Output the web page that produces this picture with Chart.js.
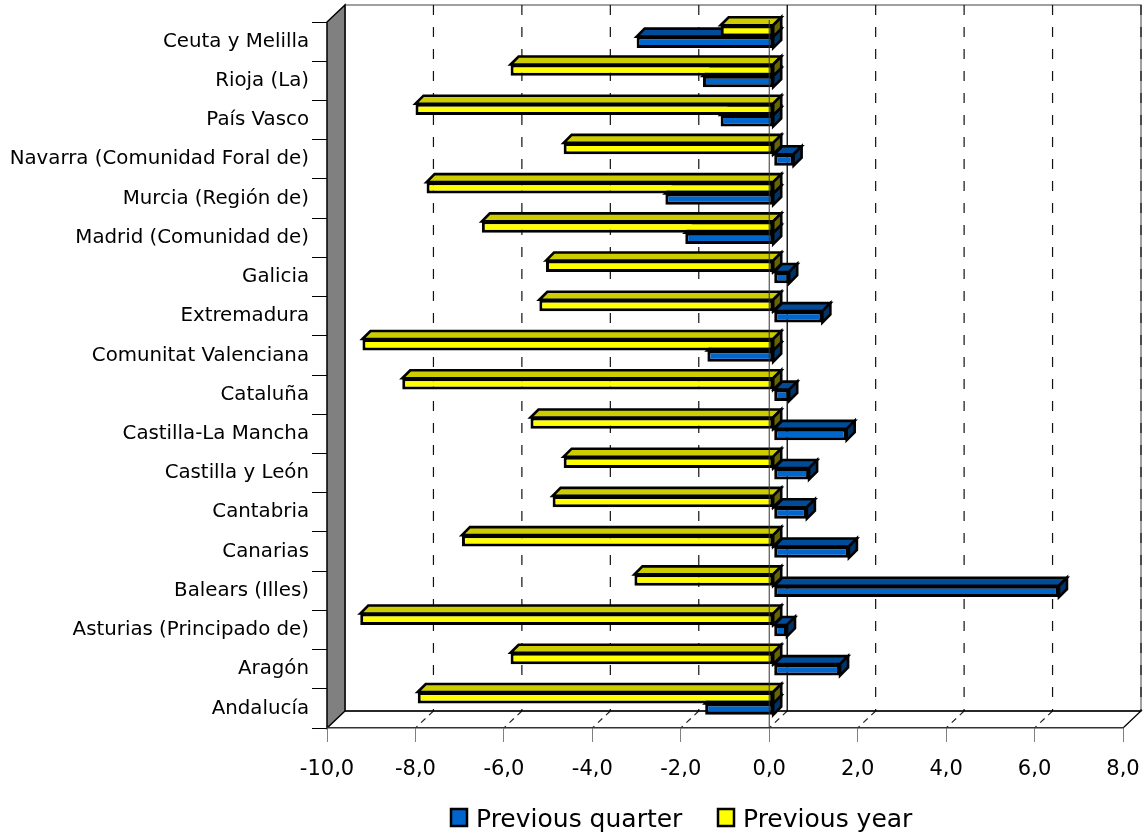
<!DOCTYPE html>
<html lang="es">
<head>
    <meta charset="UTF-8">
    <title>Variación por comunidades</title>
    <script src="https://cdn.jsdelivr.net/npm/chart.js"></script>
    <style>
        body { margin: 0; background: #fff; }
        #wrap { width: 1146px; height: 836px; }
    </style>
</head>
<body>
    <div id="wrap"><canvas id="barChart" width="1146" height="836"></canvas></div>

    <script>
        // categories, top to bottom
        const regions = [
            'Ceuta y Melilla', 'Rioja (La)', 'País Vasco', 'Navarra (Comunidad Foral de)',
            'Murcia (Región de)', 'Madrid (Comunidad de)', 'Galicia', 'Extremadura',
            'Comunitat Valenciana', 'Cataluña', 'Castilla-La Mancha', 'Castilla y León',
            'Cantabria', 'Canarias', 'Balears (Illes)', 'Asturias (Principado de)',
            'Aragón', 'Andalucía'
        ];
        const prevYear = [-1.2, -5.95, -8.1, -4.75, -7.85, -6.6, -5.15, -5.3, -9.3,
                          -8.4, -5.5, -4.75, -5.0, -7.05, -3.15, -9.35, -5.95, -8.05];
        const prevQuarter = [-3.1, -1.6, -1.2, 0.45, -2.45, -2.0, 0.35, 1.1, -1.5,
                             0.35, 1.65, 0.8, 0.75, 1.7, 6.45, 0.3, 1.5, -1.55];
        const xMin = -10, xMax = 8, xStep = 2;

        const DX = 18, DY = 17;     // depth of the 3d box
        const BD = 8;               // depth of each bar
        const FONT = 'DejaVu Sans';

        // side and top shades for the fake 3d bars
        const shades = {
            '#FFFF00': { top: '#CCCC00', side: '#666600' },
            '#0066CC': { top: '#004C99', side: '#003366' }
        };

        function poly(ctx, pts, fill) {
            ctx.beginPath();
            ctx.moveTo(pts[0][0], pts[0][1]);
            for (let i = 1; i < pts.length; i++) ctx.lineTo(pts[i][0], pts[i][1]);
            ctx.closePath();
            ctx.fillStyle = fill;
            ctx.fill();
            ctx.stroke();
        }

        const box3d = {
            id: 'box3d',
            beforeDraw(chart) {
                const ctx = chart.ctx;
                const { left, right, top, bottom } = chart.chartArea;
                const xs = chart.scales.x;
                ctx.save();
                // back wall
                ctx.strokeStyle = '#808080';
                ctx.lineWidth = 1.5;
                ctx.strokeRect(left + DX, top - DY, right - left, bottom - top);

                // grid on back wall + dashes on the floor
                xs.ticks.forEach(t => {
                    const px = xs.getPixelForValue(t.value);
                    if (t.value === xMin) return;
                    ctx.beginPath();
                    if (t.value === 0) {
                        ctx.setLineDash([]);
                        ctx.strokeStyle = '#000';
                        ctx.lineWidth = 1.3;
                    } else {
                        ctx.setLineDash([10, 12]);
                        ctx.strokeStyle = '#111';
                        ctx.lineWidth = 1.2;
                    }
                    ctx.moveTo(px + DX, top - DY);
                    ctx.lineTo(px + DX, bottom - DY);
                    ctx.stroke();
                    if (t.value !== xMax) {
                        ctx.beginPath();
                        ctx.setLineDash([6, 5]);
                        ctx.strokeStyle = '#222';
                        ctx.lineWidth = 1.2;
                        ctx.moveTo(px + DX, bottom - DY);
                        ctx.lineTo(px, bottom);
                        ctx.stroke();
                    }
                });
                ctx.setLineDash([]);

                // floor edges
                ctx.strokeStyle = '#000';
                ctx.lineWidth = 1.3;
                ctx.beginPath();
                ctx.moveTo(left + DX, bottom - DY);
                ctx.lineTo(right + DX, bottom - DY);
                ctx.lineTo(right, bottom);
                ctx.stroke();

                // left wall
                ctx.lineWidth = 1.5;
                poly(ctx, [[left, top], [left + DX, top - DY], [left + DX, bottom - DY], [left, bottom]], '#808080');
                ctx.restore();
            },
            beforeDatasetsDraw(chart) {
                chart.ctx.save();
                chart.ctx.translate(4.5, -5);
            },
            beforeDatasetDraw(chart, args) {
                const ctx = chart.ctx;
                const ds = chart.data.datasets[args.index];
                const sh = shades[ds.backgroundColor];
                ctx.save();
                ctx.strokeStyle = '#000';
                ctx.lineWidth = 2.6;
                ctx.lineJoin = 'miter';
                args.meta.data.forEach(el => {
                    const p = el.getProps(['x', 'y', 'base', 'height'], true);
                    const l = Math.min(p.x, p.base), r = Math.max(p.x, p.base);
                    const t = p.y - p.height / 2, b = p.y + p.height / 2;
                    poly(ctx, [[l, t], [l + BD, t - BD], [r + BD, t - BD], [r, t]], sh.top);
                    poly(ctx, [[r, t], [r + BD, t - BD], [r + BD, b - BD], [r, b]], sh.side);
                });
                ctx.restore();
            },
            afterDatasetsDraw(chart) {
                const ctx = chart.ctx;
                ctx.restore();
                const { top, bottom } = chart.chartArea;
                const z = chart.scales.x.getPixelForValue(0);
                ctx.save();
                ctx.strokeStyle = '#333';
                ctx.lineWidth = 1;
                ctx.beginPath();
                ctx.moveTo(z, top - 2);
                ctx.lineTo(z, bottom);
                ctx.stroke();
                ctx.restore();
            },
            afterDraw(chart) {
                // legend, previous quarter first
                const ctx = chart.ctx;
                const items = [chart.data.datasets[1], chart.data.datasets[0]];
                const pos = [450, 717];
                ctx.save();
                ctx.font = '25px "' + FONT + '"';
                ctx.textBaseline = 'alphabetic';
                items.forEach((ds, i) => {
                    ctx.fillStyle = ds.backgroundColor;
                    ctx.fillRect(pos[i], 808, 18, 19);
                    ctx.strokeStyle = '#000';
                    ctx.lineWidth = 2.5;
                    ctx.strokeRect(pos[i] + 1, 809, 16, 17);
                    ctx.fillStyle = '#000';
                    ctx.fillText(ds.label, pos[i] + 26, 827);
                });
                ctx.restore();
            }
        };

        document.addEventListener('DOMContentLoaded', function () {
            const ctx = document.getElementById('barChart').getContext('2d');
            new Chart(ctx, {
                type: 'bar',
                data: {
                    labels: regions,
                    datasets: [
                        { label: 'Previous year', data: prevYear, backgroundColor: '#FFFF00',
                          borderColor: '#000', borderWidth: 3, borderSkipped: false, clip: false },
                        { label: 'Previous quarter', data: prevQuarter, backgroundColor: '#0066CC',
                          borderColor: '#000', borderWidth: 3, borderSkipped: false, clip: false }
                    ]
                },
                options: {
                    indexAxis: 'y',
                    responsive: false,
                    devicePixelRatio: 1,
                    animation: false,
                    categoryPercentage: 0.58,
                    barPercentage: 1.0,
                    layout: { padding: { top: 22, right: 23, left: 0, bottom: 0 } },
                    plugins: {
                        legend: { display: false },
                        tooltip: { enabled: false }
                    },
                    scales: {
                        x: {
                            min: xMin, max: xMax,
                            afterFit: s => { s.height = 108; s.paddingLeft = 0; s.paddingRight = 0; },
                            ticks: {
                                stepSize: xStep,
                                color: '#000',
                                padding: 15,
                                maxRotation: 0,
                                font: { family: FONT, size: 21 },
                                callback: v => v.toFixed(1).replace('.', ',')
                            },
                            grid: { drawOnChartArea: false, tickLength: 14, color: '#808080' },
                            border: { display: true, color: '#333', width: 1.5 }
                        },
                        y: {
                            afterFit: s => { s.width = 327; },
                            ticks: {
                                color: '#000',
                                padding: 3,
                                font: { family: FONT, size: 19.8 }
                            },
                            grid: { drawOnChartArea: false, tickLength: 15, color: '#000', offset: true },
                            border: { display: false }
                        }
                    }
                },
                plugins: [box3d]
            });
        });
    </script>
</body>
</html>
